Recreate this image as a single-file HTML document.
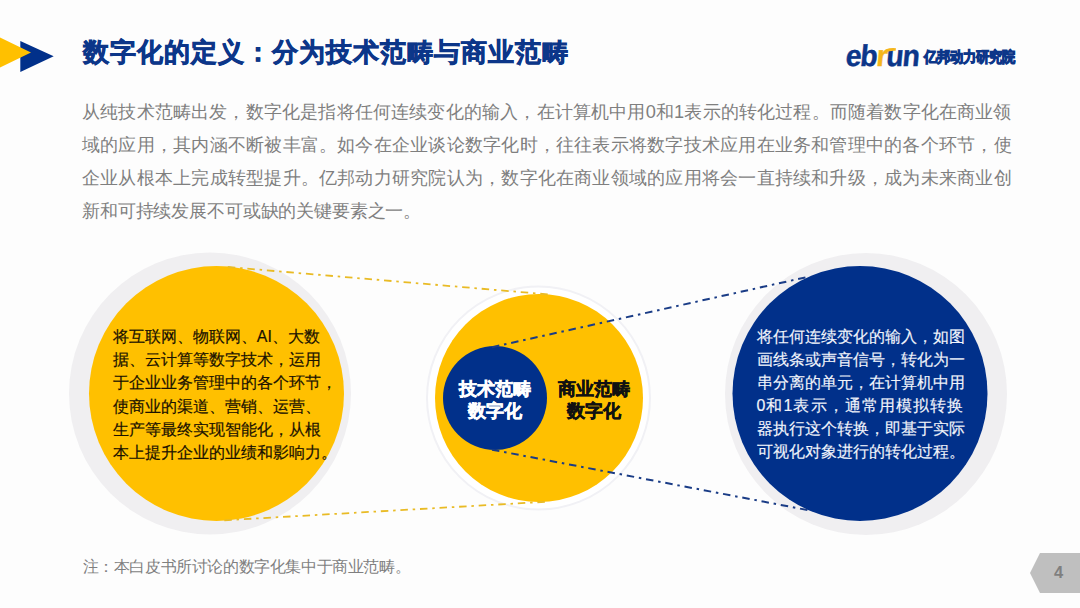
<!DOCTYPE html>
<html lang="zh">
<head>
<meta charset="utf-8">
<title>数字化的定义</title>
<style>
html,body{margin:0;padding:0;}
body{width:1080px;height:608px;overflow:hidden;background:#fdfdfd;font-family:"Liberation Sans",sans-serif;position:relative;}
#stage{position:absolute;left:0;top:0;width:1080px;height:608px;overflow:hidden;}
svg{position:absolute;left:0;top:0;}
.t{position:absolute;white-space:nowrap;margin:0;}
#title{left:82.8px;top:32.8px;font-size:25.8px;font-weight:bold;-webkit-text-stroke:0.7px #0c3689;color:#0c3689;line-height:38px;letter-spacing:1.0px;}
#para{position:absolute;left:82px;top:95.5px;width:929.5px;font-size:18.2px;line-height:33.3px;color:#7f7f7f;text-align:justify;white-space:normal;word-break:break-all;}
.pl{height:33.3px;white-space:nowrap;text-align:justify;text-align-last:justify;}
.pl.last{text-align:left;text-align-last:left;letter-spacing:-0.15px;}
.ctext{position:absolute;font-size:15.9px;line-height:23.2px;color:#111;white-space:nowrap;width:206.7px;}
.ctext div{text-align:justify;text-align-last:justify;white-space:nowrap;height:23.2px;}
#rtext,#rtext div{line-height:23.05px;}#rtext div{height:23.05px;}
#ltext{left:112.8px;top:325px;color:#1a1200;-webkit-text-stroke:0.2px #1a1200;}
#rtext{left:756.5px;top:325.2px;color:#f1f4fb;-webkit-text-stroke:0.15px #f1f4fb;}
.lab{position:absolute;font-size:18px;line-height:22px;font-weight:bold;text-align:center;white-space:nowrap;}
#lab1{left:445px;top:378px;width:100px;color:#ffffff;-webkit-text-stroke:0.5px #ffffff;}
#lab2{left:544px;top:378px;width:100px;color:#111111;-webkit-text-stroke:0.5px #111111;}
#note{left:82.5px;top:556px;font-size:16px;letter-spacing:-0.4px;line-height:22px;color:#7f7f7f;}
#pg{left:1048.5px;top:560.9px;width:20px;text-align:center;font-size:16.5px;font-weight:bold;color:#7f7f7f;line-height:22px;}
#logo-en{left:844.5px;top:38.5px;font-size:30px;font-weight:bold;color:#0c3689;-webkit-text-stroke:0.45px;line-height:34px;letter-spacing:-1.25px;transform:skewX(-5.5deg) scaleX(0.945);transform-origin:0 80%;}
#logo-cn{left:923.5px;top:46.5px;font-size:13.2px;font-weight:bold;color:#0d3b92;line-height:20px;-webkit-text-stroke:0.95px #0c3689;transform:scaleY(1.13);transform-origin:50% 50%;}
</style>
</head>
<body>
<div id="stage">
<svg width="1080" height="608" viewBox="0 0 1080 608">
  <!-- header arrow -->
  <polygon points="20.3,41 53.7,56.3 20.3,72" fill="#01308a"/>
  <polygon points="0,37.5 31,52.5 0,67.5" fill="#ffc000"/>
  <!-- left circle -->
  <circle cx="210" cy="393.5" r="141" fill="#f0eff1"/>
  <circle cx="216.5" cy="393.5" r="127.5" fill="#ffc000"/>
  <!-- right circle -->
  <circle cx="866" cy="394" r="141" fill="#f0eff1"/>
  <circle cx="860" cy="393.5" r="127.5" fill="#01308a"/>
  <!-- middle circle -->
  <circle cx="538.5" cy="398" r="111.5" fill="#ffffff" stroke="#f1f1f5" stroke-width="2"/>
  <circle cx="539" cy="398" r="104" fill="#ffc000"/>
  <circle cx="495" cy="398" r="52" fill="#01308a"/>
  <!-- yellow dashed tangents -->
  <g stroke="#e9bb25" stroke-width="1.8" stroke-dasharray="7.5 4.8 2.5 4.8" fill="none">
    <line x1="227.8" y1="267" x2="547.9" y2="294.4"/>
    <line x1="224.3" y1="520.3" x2="545" y2="501.8"/>
  </g>
  <!-- blue dashed tangents -->
  <g stroke="#1a3c86" stroke-width="2" stroke-dasharray="7.5 4.8 2.5 4.8" fill="none">
    <line x1="492" y1="347.2" x2="810" y2="276.4"/>
    <line x1="492" y1="449.7" x2="812" y2="510.9"/>
  </g>
  <!-- page tag -->
  <polygon points="1030,573 1040,553 1080,553 1080,593 1040,593" fill="#bfbfbf"/>
</svg>

<div class="t" id="title">数字化的定义：分为技术范畴与商业范畴</div>

<div class="t" id="logo-en">eb<span style="color:#f5b61c">r</span>un</div>
<svg width="20" height="10" viewBox="884 45 20 10" style="left:884px;top:45px"><path d="M885.5,49.6 Q890.5,47.6 896,48.3 L895.6,50.7 Q890.5,50.3 885.5,52.2 Z" fill="#f5b61c"/></svg>
<div class="t" id="logo-cn">亿邦动力研究院</div>

<div id="para"><div class="pl">从纯技术范畴出发，数字化是指将任何连续变化的输入，在计算机中用0和1表示的转化过程。而随着数字化在商业领</div><div class="pl">域的应用，其内涵不断被丰富。如今在企业谈论数字化时，往往表示将数字技术应用在业务和管理中的各个环节，使</div><div class="pl">企业从根本上完成转型提升。亿邦动力研究院认为，数字化在商业领域的应用将会一直持续和升级，成为未来商业创</div><div class="pl last">新和可持续发展不可或缺的关键要素之一。</div></div>

<div class="ctext" id="ltext"><div>将互联网、物联网、AI、大数</div><div>据、云计算等数字技术，运用</div><div>于企业业务管理中的各个环节，</div><div>使商业的渠道、营销、运营、</div><div>生产等最终实现智能化，从根</div><div>本上提升企业的业绩和影响力。</div></div>

<div class="ctext" id="rtext"><div>将任何连续变化的输入，如图</div><div>画线条或声音信号，转化为一</div><div>串分离的单元，在计算机中用</div><div>0和1表示，通常用模拟转换</div><div>器执行这个转换，即基于实际</div><div>可视化对象进行的转化过程。</div></div>

<div class="lab" id="lab1">技术范畴<br>数字化</div>
<div class="lab" id="lab2">商业范畴<br>数字化</div>

<div class="t" id="note">注：本白皮书所讨论的数字化集中于商业范畴。</div>
<div class="t" id="pg">4</div>
</div>
</body>
</html>
